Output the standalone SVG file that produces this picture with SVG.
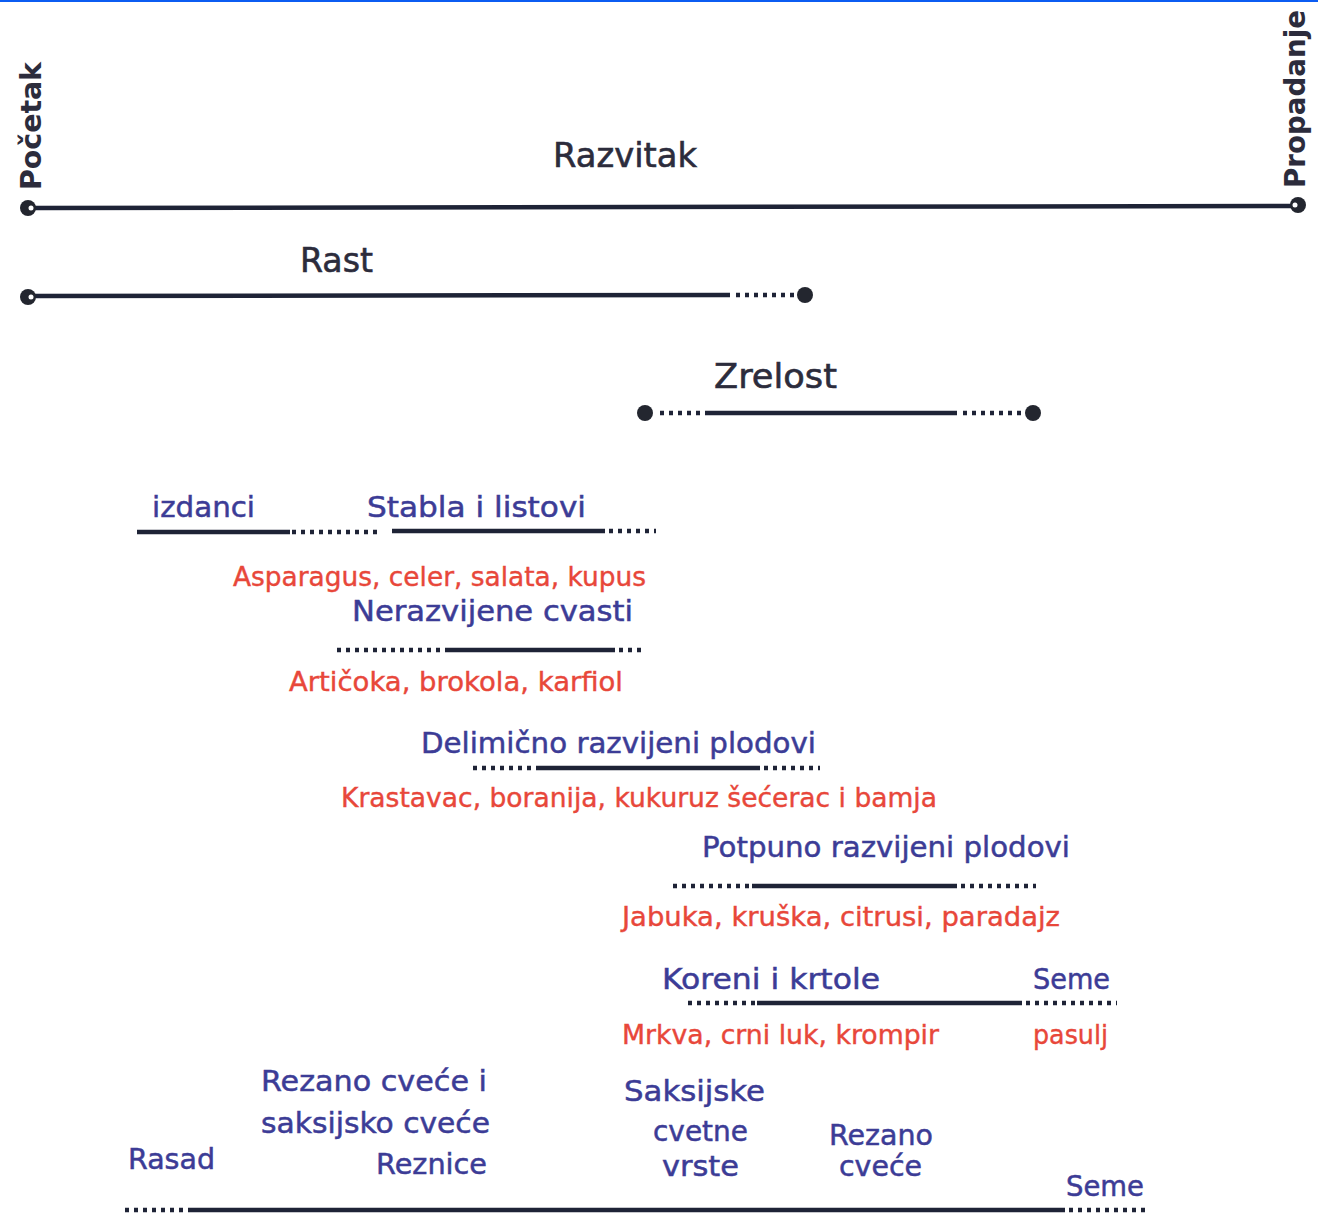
<svg xmlns="http://www.w3.org/2000/svg" width="1318" height="1213" viewBox="0 0 1318 1213">
<style>
text{font-family:"DejaVu Sans","Liberation Sans",sans-serif;}
.t{fill:#2c2c3c;font-size:34px;stroke:#2c2c3c;stroke-width:0.6;}
.b{fill:#3c3c96;font-size:28px;stroke:#3c3c96;stroke-width:0.5;}
.r{fill:#e8473a;font-size:26px;stroke:#e8473a;stroke-width:0.4;}
.v{fill:#2c2c3c;font-size:28px;font-weight:bold;}
.sol{stroke:#1e2336;stroke-width:4.5;fill:none;}
.dot{stroke:#1e2336;stroke-width:4.5;stroke-dasharray:4 5;fill:none;}
.end{fill:#23262f;}
</style>
<rect x="0" y="0" width="1318" height="2" fill="#0b5cf2"/>
<g id="labels-ends">
<text class="v" transform="translate(41,190) rotate(-90)" textLength="128" lengthAdjust="spacingAndGlyphs">Početak</text>
<text class="v" transform="translate(1305,188) rotate(-90)" textLength="178" lengthAdjust="spacingAndGlyphs">Propadanje</text>
</g>
<g id="connectors">
<g id="razvitak-bar">
<line class="sol" x1="30" y1="208" x2="1296" y2="206"/>
<circle class="end" cx="28" cy="208" r="8"/><circle cx="31" cy="208" r="2.5" fill="#fff"/>
<circle class="end" cx="1298" cy="205" r="8"/><circle cx="1295" cy="205" r="2.5" fill="#fff"/>
</g>
<g id="rast-bar">
<line class="sol" x1="30" y1="296" x2="730" y2="295"/>
<line class="dot" x1="736" y1="295" x2="795" y2="295"/>
<circle class="end" cx="28" cy="297" r="8"/><circle cx="31" cy="297" r="2.5" fill="#fff"/>
<circle class="end" cx="805" cy="295" r="8"/>
</g>
<g id="zrelost-bar">
<line class="dot" x1="660" y1="413" x2="705" y2="413"/>
<line class="sol" x1="705" y1="413" x2="957" y2="413"/>
<line class="dot" x1="963" y1="413" x2="1022" y2="413"/>
<circle class="end" cx="645" cy="413" r="8"/>
<circle class="end" cx="1033" cy="413" r="8"/>
</g>
<g id="izdanci-bar"><line class="sol" x1="137" y1="532" x2="290" y2="532"/><line class="dot" x1="292" y1="532" x2="380" y2="532"/></g>
<g id="stabla-bar"><line class="sol" x1="392" y1="531" x2="605" y2="531"/><line class="dot" x1="609" y1="531" x2="656" y2="531"/></g>
<g id="cvasti-bar"><line class="dot" x1="337" y1="650" x2="445" y2="650"/><line class="sol" x1="445" y1="650" x2="615" y2="650"/><line class="dot" x1="619" y1="650" x2="642" y2="650"/></g>
<g id="delimicno-bar"><line class="dot" x1="473" y1="768" x2="540" y2="768"/><line class="sol" x1="540" y1="768" x2="760" y2="768"/><line class="dot" x1="764" y1="768" x2="820" y2="768"/></g>
<g id="potpuno-bar"><line class="dot" x1="673" y1="886" x2="752" y2="886"/><line class="sol" x1="752" y1="886" x2="957" y2="886"/><line class="dot" x1="961" y1="886" x2="1036" y2="886"/></g>
<g id="koreni-bar"><line class="dot" x1="688" y1="1003" x2="757" y2="1003"/><line class="sol" x1="757" y1="1003" x2="1022" y2="1003"/><line class="dot" x1="1026" y1="1003" x2="1117" y2="1003"/></g>
<g id="cvece-bar"><line class="dot" x1="125" y1="1210" x2="190" y2="1210"/><line class="sol" x1="190" y1="1210" x2="1065" y2="1210"/><line class="dot" x1="1069" y1="1210" x2="1145" y2="1210"/></g>
</g>
<g id="razvitak"><text class="t" x="553" y="167" textLength="144" lengthAdjust="spacingAndGlyphs">Razvitak</text></g>
<g id="rast"><text class="t" x="300" y="272" textLength="73" lengthAdjust="spacingAndGlyphs">Rast</text></g>
<g id="zrelost"><text class="t" x="714" y="388" font-size="36" textLength="123" lengthAdjust="spacingAndGlyphs">Zrelost</text></g>
<g id="izdanci"><text class="b" x="152" y="517" textLength="103" lengthAdjust="spacingAndGlyphs">izdanci</text></g>
<g id="stabla"><text class="b" x="367" y="517" textLength="219" lengthAdjust="spacingAndGlyphs">Stabla i listovi</text>
<text class="r" x="233" y="586" textLength="413" lengthAdjust="spacingAndGlyphs">Asparagus, celer, salata, kupus</text></g>
<g id="cvasti"><text class="b" x="352" y="621" textLength="281" lengthAdjust="spacingAndGlyphs">Nerazvijene cvasti</text>
<text class="r" x="289" y="691" textLength="334" lengthAdjust="spacingAndGlyphs">Artičoka, brokola, karfiol</text></g>
<g id="delimicno"><text class="b" x="421" y="753" textLength="395" lengthAdjust="spacingAndGlyphs">Delimično razvijeni plodovi</text>
<text class="r" x="341" y="807" textLength="596" lengthAdjust="spacingAndGlyphs">Krastavac, boranija, kukuruz šećerac i bamja</text></g>
<g id="potpuno"><text class="b" x="702" y="857" textLength="368" lengthAdjust="spacingAndGlyphs">Potpuno razvijeni plodovi</text>
<text class="r" x="622" y="926" textLength="438" lengthAdjust="spacingAndGlyphs">Jabuka, kruška, citrusi, paradajz</text></g>
<g id="koreni"><text class="b" x="662" y="989" textLength="218" lengthAdjust="spacingAndGlyphs">Koreni i krtole</text>
<text class="r" x="622" y="1044" textLength="317" lengthAdjust="spacingAndGlyphs">Mrkva, crni luk, krompir</text></g>
<g id="seme1"><text class="b" x="1033" y="989" textLength="77" lengthAdjust="spacingAndGlyphs">Seme</text>
<text class="r" x="1033" y="1044" textLength="75" lengthAdjust="spacingAndGlyphs">pasulj</text></g>
<g id="rasad"><text class="b" x="128" y="1169" textLength="87" lengthAdjust="spacingAndGlyphs">Rasad</text></g>
<g id="reznice"><text class="b" x="261" y="1091" textLength="226" lengthAdjust="spacingAndGlyphs">Rezano cveće i</text>
<text class="b" x="261" y="1133" textLength="229" lengthAdjust="spacingAndGlyphs">saksijsko cveće</text>
<text class="b" x="376" y="1174" textLength="111" lengthAdjust="spacingAndGlyphs">Reznice</text></g>
<g id="saksijske"><text class="b" x="624" y="1101" textLength="141" lengthAdjust="spacingAndGlyphs">Saksijske</text>
<text class="b" x="653" y="1141" textLength="95" lengthAdjust="spacingAndGlyphs">cvetne</text>
<text class="b" x="662" y="1176" textLength="77" lengthAdjust="spacingAndGlyphs">vrste</text></g>
<g id="rezano"><text class="b" x="829" y="1145" textLength="104" lengthAdjust="spacingAndGlyphs">Rezano</text>
<text class="b" x="839" y="1176" textLength="83" lengthAdjust="spacingAndGlyphs">cveće</text></g>
<g id="seme2"><text class="b" x="1066" y="1196" textLength="78" lengthAdjust="spacingAndGlyphs">Seme</text></g>
</svg>
